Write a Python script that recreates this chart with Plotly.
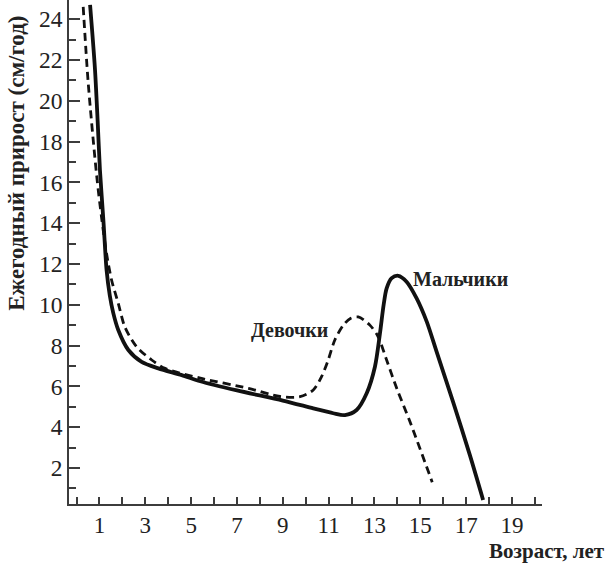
import plotly.graph_objects as go

# Boys (solid)
boys_age = [0.59, 0.8, 0.92, 1.02, 1.17, 1.31, 1.45, 1.6, 1.82, 2.26, 2.84, 3.57, 4.59, 5.4, 7.0, 9.0, 10.33, 11.2, 11.71, 12.22, 12.66, 13.02, 13.24, 13.4, 13.53, 13.75, 14.04, 14.4, 14.84, 15.28, 15.71, 16.44, 17.17, 17.74]
boys_gain = [24.7, 21.6, 19.0, 16.6, 14.15, 11.7, 10.45, 9.6, 8.76, 7.78, 7.2, 6.88, 6.55, 6.25, 5.8, 5.3, 4.92, 4.68, 4.59, 4.84, 5.66, 6.96, 8.6, 10.0, 10.8, 11.3, 11.42, 11.13, 10.31, 9.17, 7.7, 5.2, 2.6, 0.43]

# Girls (dashed)
girls_age = [0.29, 0.51, 0.88, 1.1, 1.31, 1.53, 1.82, 2.11, 2.62, 3.28, 3.86, 5.4, 7.5, 8.88, 9.75, 10.33, 10.69, 10.98, 11.27, 11.64, 11.95, 12.29, 12.8, 13.16, 13.53, 13.97, 14.55, 15.52]
girls_gain = [24.6, 20.85, 16.3, 14.2, 12.5, 11.2, 10.07, 8.9, 7.94, 7.29, 6.88, 6.4, 5.9, 5.5, 5.49, 5.82, 6.47, 7.29, 8.27, 9.0, 9.33, 9.4, 9.0, 8.43, 7.29, 5.9, 4.26, 1.3]

x_tickvals = list(range(0, 21))
x_ticktext = [str(v) if v % 2 == 1 else "" for v in x_tickvals]
y_tickvals = list(range(2, 25, 2))
y_ticktext = [str(v) for v in y_tickvals]

FONT = "Liberation Serif"
AX = "#3c3c3c"
TXT = "#222222"

fig = go.Figure()
fig.add_trace(go.Scatter(x=boys_age, y=boys_gain, mode="lines",
                         line=dict(color="#111111", width=3.8, shape="spline", smoothing=0.8),
                         name="Мальчики", showlegend=False))
fig.add_trace(go.Scatter(x=girls_age, y=girls_gain, mode="lines",
                         line=dict(color="#111111", width=2.8, shape="spline", smoothing=0.8, dash="8px,5px"),
                         name="Девочки", showlegend=False))

fig.update_layout(
    width=614, height=565,
    margin=dict(l=69, r=72, t=0, b=61),
    plot_bgcolor="white", paper_bgcolor="white",
    font=dict(family=FONT, color=TXT, size=22),
    xaxis=dict(range=[-0.33, 20.31], showgrid=False, zeroline=False,
               showline=True, linecolor=AX, linewidth=1.5,
               tickmode="array", tickvals=x_tickvals, ticktext=x_ticktext,
               ticks="inside", ticklen=7, tickwidth=1.5, tickcolor=AX,
               tickfont=dict(family=FONT, size=23, color=TXT)),
    yaxis=dict(range=[0.23, 24.94], showgrid=False, zeroline=False,
               showline=True, linecolor=AX, linewidth=1.5,
               tickmode="array", tickvals=y_tickvals, ticktext=y_ticktext,
               ticks="inside", ticklen=11, tickwidth=1.5, tickcolor=AX,
               tickfont=dict(family=FONT, size=23.5, color=TXT),
               minor=dict(ticks="inside", ticklen=7, tickwidth=1.5, tickcolor=AX,
                          tickmode="array", tickvals=list(range(1, 25, 2)))),
    annotations=[
        dict(text="<b>Мальчики</b>", x=16.77, y=11.25, xref="x", yref="y",
             showarrow=False, font=dict(family=FONT, size=20, color=TXT)),
        dict(text="<b>Девочки</b>", x=9.31, y=8.76, xref="x", yref="y",
             showarrow=False, font=dict(family=FONT, size=20, color=TXT)),
        dict(text="<b>Возраст, лет</b>", x=1.137, y=-0.093, xref="paper", yref="paper",
             xanchor="right", yanchor="middle",
             showarrow=False, font=dict(family=FONT, size=21, color=TXT)),
        dict(text="<b>Ежегодный прирост (см/год)</b>", x=-0.11, y=0.677, xref="paper", yref="paper",
             textangle=-90, xanchor="center", yanchor="middle",
             showarrow=False, font=dict(family=FONT, size=23, color=TXT)),
    ],
)

fig.write_html("out.html")
